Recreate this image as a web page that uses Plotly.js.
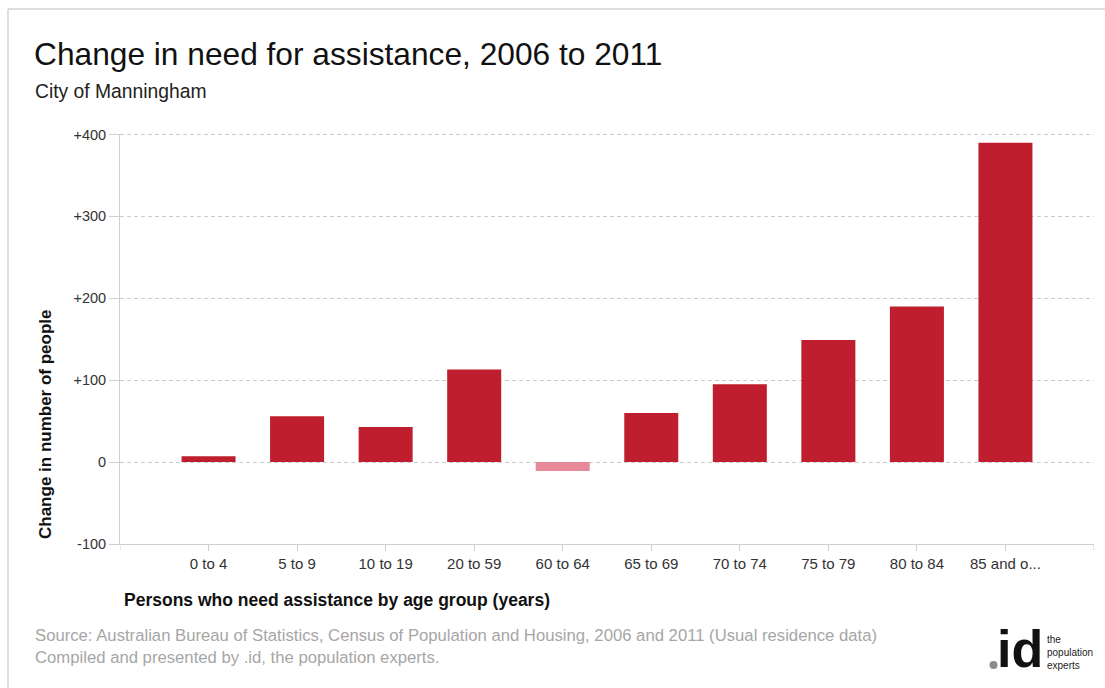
<!DOCTYPE html>
<html>
<head>
<meta charset="utf-8">
<script src="https://cdn.plot.ly/plotly-3.0.1.min.js"></script>
<style>
html,body{margin:0;padding:0;background:#fff;}
#chart{width:1105px;height:688px;}
</style>
</head>
<body>
<div id="chart"></div>
<script>
// ---- data ----
const categories = ["0 to 4","5 to 9","10 to 19","20 to 59","60 to 64","65 to 69","70 to 74","75 to 79","80 to 84","85 and o..."];
const changeValues = [7, 56, 43, 113, -11, 60, 95, 149, 190, 390];
const yTickValues = [-100, 0, 100, 200, 300, 400];
const yTickLabels = ["-100", "0", "+100", "+200", "+300", "+400"];

const titleText = "Change in need for assistance, 2006 to 2011";
const subtitleText = "City of Manningham";
const yTitleText = "Change in number of people";
const xTitleText = "Persons who need assistance by age group (years)";
const sourceText = "Source: Australian Bureau of Statistics, Census of Population and Housing, 2006 and 2011 (Usual residence data)<br>Compiled and presented by .id, the population experts.";

// ---- styling ----
const W = 1105, H = 688;
const M = {l: 120, r: 11, t: 134, b: 144};
const PW = W - M.l - M.r, PH = H - M.t - M.b;
const px = x => (x - M.l) / PW;          // pixel -> paper x
const py = y => (H - M.b - y) / PH;      // pixel -> paper y

const RED = "#BE1E2D", PINK = "#E68A99";
const barColors = changeValues.map(v => v < 0 ? PINK : RED);
const FONT = "Liberation Sans, Arial, sans-serif";
const GRID = "#cccccc";

const trace = {
  type: "bar",
  x: categories,
  y: changeValues,
  marker: {color: barColors, line: {width: 0}},
  hoverinfo: "x+y"
};

const yMax = yTickValues[yTickValues.length - 1];

const layout = {
  width: W, height: H,
  margin: M,
  paper_bgcolor: "#fff",
  plot_bgcolor: "#fff",
  showlegend: false,
  bargap: 0.39,
  font: {family: FONT, color: "#333", size: 14},
  title: {
    text: titleText,
    font: {family: FONT, size: 31.7, color: "#111"},
    xref: "container", yref: "container",
    x: 34 / W, xanchor: "left",
    y: 1 - 54 / H, yanchor: "middle"
  },
  xaxis: {
    type: "category",
    range: [-1, categories.length],
    showgrid: false,
    zeroline: false,
    showline: true, linecolor: "#cfcfcf", linewidth: 1,
    ticks: "outside", ticklen: 6, tickcolor: "#cfcfcf",
    tickfont: {family: FONT, size: 15, color: "#333"},
    fixedrange: true
  },
  yaxis: {
    range: [-100, 400.6],
    tickvals: yTickValues,
    ticktext: yTickLabels,
    showgrid: true, gridcolor: GRID, griddash: "4px,3px", gridwidth: 1,
    zeroline: false,
    showline: true, linecolor: "#cfcfcf", linewidth: 1,
    ticks: "outside", ticklen: 10, tickcolor: "#cfcfcf",
    tickfont: {family: FONT, size: 14.5, color: "#333"},
    fixedrange: true
  },
  shapes: [
    // outer frame (top and left edges visible)
    {type: "rect", xref: "paper", yref: "paper",
     x0: px(8), x1: px(1120), y0: py(700), y1: py(9),
     line: {color: "#bdbdbd", width: 1}, fillcolor: "rgba(0,0,0,0)"},
    // top gridline (at the range edge)
    {type: "line", xref: "paper", yref: "y", x0: 0, x1: 1, y0: yMax, y1: yMax,
     line: {color: GRID, width: 1, dash: "4px,3px"}, layer: "below"},
    // end ticks on the category axis
    {type: "line", xref: "x", yref: "paper", x0: -1, x1: -1, y0: 0, y1: -6 / PH,
     line: {color: "#cfcfcf", width: 1}},
    {type: "line", xref: "x", yref: "paper", x0: categories.length, x1: categories.length, y0: 0, y1: -6 / PH,
     line: {color: "#cfcfcf", width: 1}},
    // logo dot
    {type: "circle", xref: "paper", yref: "paper",
     x0: px(989.5), x1: px(997.5), y0: py(669), y1: py(661),
     fillcolor: "#8c8c8c", line: {width: 0}}
  ],
  annotations: [
    {text: subtitleText, xref: "paper", yref: "paper", x: px(33), y: py(92),
     xanchor: "left", yanchor: "middle", showarrow: false,
     font: {family: FONT, size: 19.3, color: "#222"}},
    {text: "<b>" + yTitleText + "</b>", xref: "paper", yref: "paper", x: px(45), y: py(541),
     xanchor: "center", yanchor: "bottom", textangle: -90, showarrow: false,
     font: {family: FONT, size: 17, color: "#111"}},
    {text: "<b>" + xTitleText + "</b>", xref: "paper", yref: "paper", x: px(122), y: py(600),
     xanchor: "left", yanchor: "middle", showarrow: false,
     font: {family: FONT, size: 17.5, color: "#111"}},
    {text: sourceText, xref: "paper", yref: "paper", x: px(33), y: py(646),
     xanchor: "left", yanchor: "middle", align: "left", showarrow: false,
     font: {family: FONT, size: 16.7, color: "#a6a6a6"}},
    {text: "id", xref: "paper", yref: "paper", x: px(995), y: py(649),
     xanchor: "left", yanchor: "middle", showarrow: false,
     font: {family: FONT, size: 52, color: "#111", weight: 700}},
    {text: "the<br>population<br>experts", xref: "paper", yref: "paper", x: px(1045), y: py(652),
     xanchor: "left", yanchor: "middle", align: "left", showarrow: false,
     font: {family: FONT, size: 10, color: "#222"}}
  ]
};

Plotly.newPlot("chart", [trace], layout, {displayModeBar: false, staticPlot: true});
</script>
</body>
</html>
